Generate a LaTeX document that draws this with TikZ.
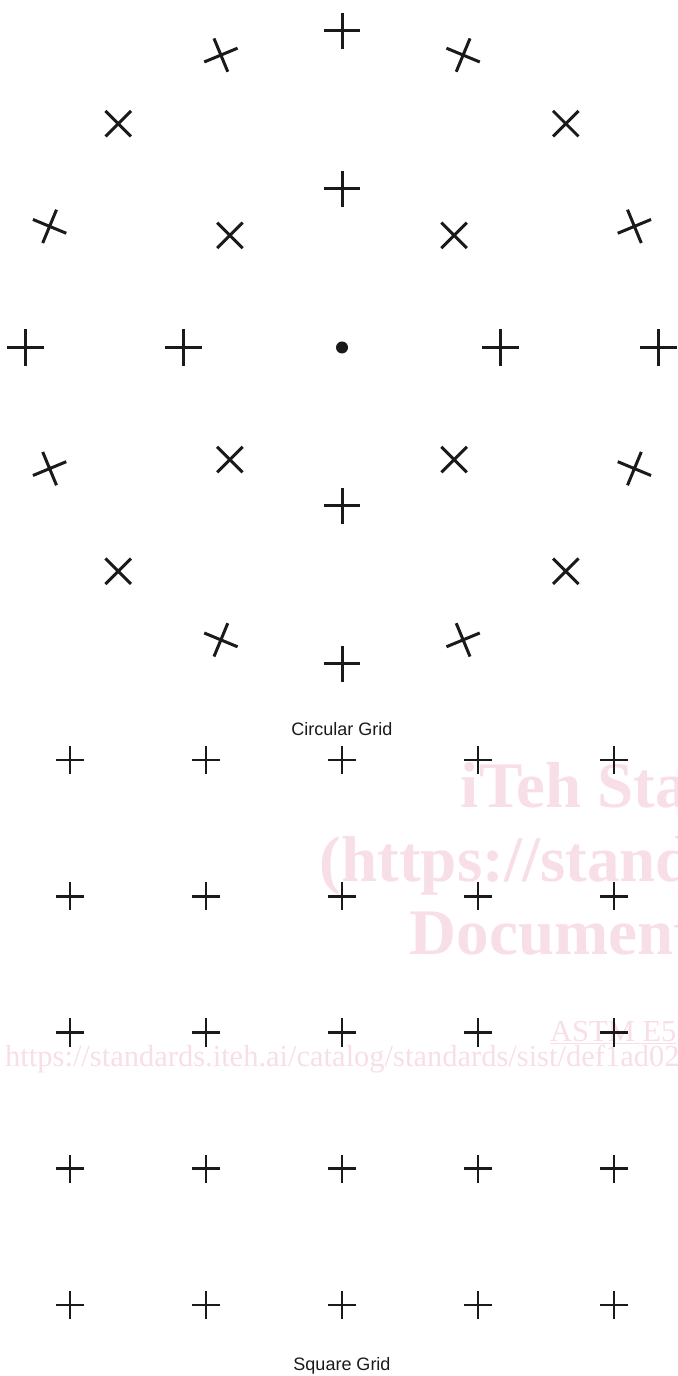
\documentclass[tikz,border=0pt]{standalone}
\usepackage{fontspec}
\setmainfont{Liberation Sans}
\newfontfamily\wmfont{Liberation Serif}
\usetikzlibrary{shapes.misc}

\definecolor{ink}{RGB}{26,26,26}
\definecolor{wmpink}{RGB}{248,222,230}

\begin{document}
\begin{tikzpicture}[
  x=1bp, y=1bp,
  ring/.style = {cross out, draw=ink, line width=3bp, inner sep=0pt, outer sep=0pt, minimum size=25.5bp},
  cell/.style = {cross out, draw=ink, line width=2.6bp, inner sep=0pt, outer sep=0pt, minimum size=20bp, rotate=45},
  gridname/.style = {anchor=base, text=ink, font=\fontsize{18bp}{21bp}\selectfont},
  wmark/.style = {anchor=base, inner sep=0pt, text=wmpink, font=\wmfont\bfseries\fontsize{65bp}{70bp}\selectfont},
  wsmall/.style = {anchor=base west, inner sep=0pt, text=wmpink, font=\wmfont\fontsize{30.5bp}{34bp}\selectfont}
]

  \useasboundingbox (0,0) rectangle (678,1376);
  \clip (0,0) rectangle (678,1376);

  % Watermark
  \node[wmark] (wm1) at (672,568) {iTeh Standards};
  \node[wmark] (wm2) at (672,494) {(https://standards.iteh.ai)};
  \node[wmark] (wm3) at (672,421) {Document Preview};
  \node[wsmall] (astm) at (550,334) {\underline{ASTM E5}};
  \node[wsmall] (url) at (5,309) {https://standards.iteh.ai/catalog/standards/sist/def1ad02};

  % Circular grid
  \node[circle, fill=ink, minimum size=12bp, inner sep=0pt] (hub) at (342,1028.5) {};

  \node[ring, rotate=45]    (i0) at ([shift={(0:158.5)}]hub.center) {};
  \node[ring, rotate=90]    (i1) at ([shift={(45:158.5)}]hub.center) {};
  \node[ring, rotate=135]   (i2) at ([shift={(90:158.5)}]hub.center) {};
  \node[ring, rotate=180]   (i3) at ([shift={(135:158.5)}]hub.center) {};
  \node[ring, rotate=225]   (i4) at ([shift={(180:158.5)}]hub.center) {};
  \node[ring, rotate=270]   (i5) at ([shift={(225:158.5)}]hub.center) {};
  \node[ring, rotate=315]   (i6) at ([shift={(270:158.5)}]hub.center) {};
  \node[ring, rotate=0]     (i7) at ([shift={(315:158.5)}]hub.center) {};

  \node[ring, rotate=45]    (o0)  at ([shift={(0:316.5)}]hub.center) {};
  \node[ring, rotate=67.5]  (o1)  at ([shift={(22.5:316.5)}]hub.center) {};
  \node[ring, rotate=90]    (o2)  at ([shift={(45:316.5)}]hub.center) {};
  \node[ring, rotate=112.5] (o3)  at ([shift={(67.5:316.5)}]hub.center) {};
  \node[ring, rotate=135]   (o4)  at ([shift={(90:316.5)}]hub.center) {};
  \node[ring, rotate=157.5] (o5)  at ([shift={(112.5:316.5)}]hub.center) {};
  \node[ring, rotate=180]   (o6)  at ([shift={(135:316.5)}]hub.center) {};
  \node[ring, rotate=202.5] (o7)  at ([shift={(157.5:316.5)}]hub.center) {};
  \node[ring, rotate=225]   (o8)  at ([shift={(180:316.5)}]hub.center) {};
  \node[ring, rotate=247.5] (o9)  at ([shift={(202.5:316.5)}]hub.center) {};
  \node[ring, rotate=270]   (o10) at ([shift={(225:316.5)}]hub.center) {};
  \node[ring, rotate=292.5] (o11) at ([shift={(247.5:316.5)}]hub.center) {};
  \node[ring, rotate=315]   (o12) at ([shift={(270:316.5)}]hub.center) {};
  \node[ring, rotate=337.5] (o13) at ([shift={(292.5:316.5)}]hub.center) {};
  \node[ring, rotate=0]     (o14) at ([shift={(315:316.5)}]hub.center) {};
  \node[ring, rotate=22.5]  (o15) at ([shift={(337.5:316.5)}]hub.center) {};

  \node[gridname] (circtitle) at (342,640) {Circular Grid};

  % Square grid
  \node[cell] (s11) at (70,616) {};
  \node[cell] (s12) at (206,616) {};
  \node[cell] (s13) at (342,616) {};
  \node[cell] (s14) at (478,616) {};
  \node[cell] (s15) at (614,616) {};
  \node[cell] (s21) at (70,479.75) {};
  \node[cell] (s22) at (206,479.75) {};
  \node[cell] (s23) at (342,479.75) {};
  \node[cell] (s24) at (478,479.75) {};
  \node[cell] (s25) at (614,479.75) {};
  \node[cell] (s31) at (70,343.5) {};
  \node[cell] (s32) at (206,343.5) {};
  \node[cell] (s33) at (342,343.5) {};
  \node[cell] (s34) at (478,343.5) {};
  \node[cell] (s35) at (614,343.5) {};
  \node[cell] (s41) at (70,207.25) {};
  \node[cell] (s42) at (206,207.25) {};
  \node[cell] (s43) at (342,207.25) {};
  \node[cell] (s44) at (478,207.25) {};
  \node[cell] (s45) at (614,207.25) {};
  \node[cell] (s51) at (70,71) {};
  \node[cell] (s52) at (206,71) {};
  \node[cell] (s53) at (342,71) {};
  \node[cell] (s54) at (478,71) {};
  \node[cell] (s55) at (614,71) {};

  \node[gridname] (sqtitle) at (342,5) {Square Grid};

\end{tikzpicture}
\end{document}
